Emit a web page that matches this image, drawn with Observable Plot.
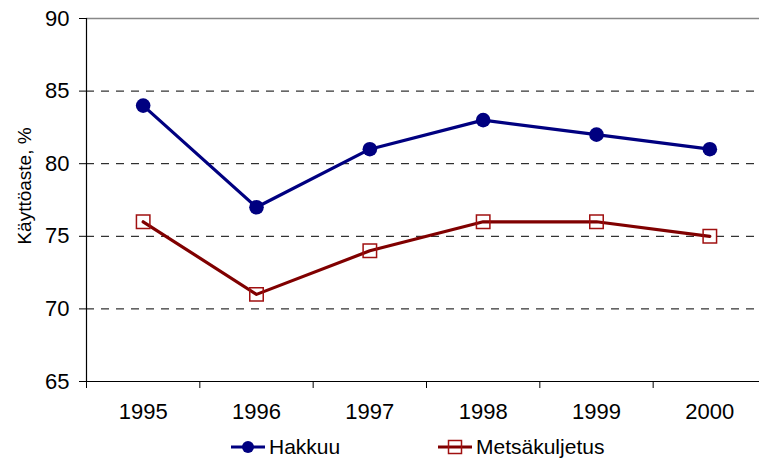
<!DOCTYPE html>
<html>
<head>
<meta charset="utf-8">
<script src="https://cdn.jsdelivr.net/npm/d3@7"></script>
<script src="https://cdn.jsdelivr.net/npm/@observablehq/plot@0.6"></script>
<style>
  html, body { margin: 0; padding: 0; background: #fff; }
  body { width: 759px; height: 466px; overflow: hidden; font-family: "Liberation Sans", Arial, sans-serif; }
  #legend { height: 36px; font-size: 21px; color: #000; position: relative; }
  .item { display: flex; align-items: center; position: absolute; }
  #chart g[aria-label$="tick label"], #chart g[aria-label$="tick label"] text { font-size: 22px; }
</style>
</head>
<body>
<div id="chart"></div>
<div id="legend"></div>
<script>
const years = [1995, 1996, 1997, 1998, 1999, 2000];
const hakkuu = [84, 77, 81, 83, 82, 81];
const metsakuljetus = [76, 71, 74, 76, 76, 75];
const yTicks = [65, 70, 75, 80, 85, 90];
const dashedGrid = [70, 75, 80, 85];
const seriesNames = ["Hakkuu", "Metsäkuljetus"];
const lineColors = ["#000080", "#800000"];
const markerColors = ["#000080", "#A01010"];
const yLabel = "Käyttöaste, %";

const boundaries = years.map(y => y - 0.5).concat([years[years.length - 1] + 0.5]);
const rowsH = years.map((y, i) => ({year: y, value: hakkuu[i]}));
const rowsM = years.map((y, i) => ({year: y, value: metsakuljetus[i]}));

const chart = Plot.plot({
  width: 759,
  height: 430,
  marginTop: 18,
  marginBottom: 49,
  marginLeft: 86,
  marginRight: 0,
  style: {fontFamily: "Liberation Sans, Arial, sans-serif", fontSize: "21px", color: "#000", background: "#fff"},
  x: {domain: [1994.5, 2000.5], range: [86, 766]},
  y: {domain: [65, 90]},
  marks: [
    Plot.ruleY(dashedGrid, {stroke: "#000", strokeWidth: 1, strokeDasharray: "8,7"}),
    Plot.ruleY([90], {stroke: "#888", strokeWidth: 1.5, x1: 1994.5, x2: 2000.5}),
    Plot.axisY(yTicks, {tickSize: 7, tickPadding: 10, stroke: "#000", fontSize: 22, label: null}),
    Plot.axisX(years, {tickSize: 0, tickPadding: 22, tickFormat: d => String(d), fontSize: 22, label: null}),
    Plot.axisX(boundaries, {tickSize: 7, tickFormat: () => "", stroke: "#000", label: null}),
    Plot.ruleX([1994.5], {stroke: "#000", strokeWidth: 1.2}),
    Plot.ruleY([65], {stroke: "#000", strokeWidth: 1.2}),
    Plot.text([yLabel], {frameAnchor: "left", dx: -62, dy: -14, rotate: -90, fontSize: 19, textAnchor: "middle"}),
    Plot.line(rowsH, {x: "year", y: "value", stroke: lineColors[0], strokeWidth: 3.2}),
    Plot.dot(rowsH, {x: "year", y: "value", r: 7.3, fill: markerColors[0], stroke: "none"}),
    Plot.line(rowsM, {x: "year", y: "value", stroke: lineColors[1], strokeWidth: 3.2}),
    Plot.dot(rowsM, {x: "year", y: "value", symbol: "square", r: 7.6, fill: "none", stroke: markerColors[1], strokeWidth: 1.5})
  ]
});
document.getElementById("chart").appendChild(chart);

// legend
const legend = document.getElementById("legend");
const lefts = [231, 438];
seriesNames.forEach((name, i) => {
  const item = document.createElement("div");
  item.className = "item";
  item.style.left = lefts[i] + "px";
  item.style.top = "5px";
  const marker = i === 0
    ? `<circle cx="17" cy="12" r="6" fill="${markerColors[0]}"/>`
    : `<rect x="10.5" y="5.5" width="13" height="13" fill="none" stroke="${markerColors[1]}" stroke-width="1.5"/>`;
  item.innerHTML = `<svg width="35" height="24"><line x1="0" x2="34" y1="12" y2="12" stroke="${lineColors[i]}" stroke-width="3.2"/>${marker}</svg><span style="margin-left:3px">${name}</span>`;
  legend.appendChild(item);
});
</script>
</body>
</html>
